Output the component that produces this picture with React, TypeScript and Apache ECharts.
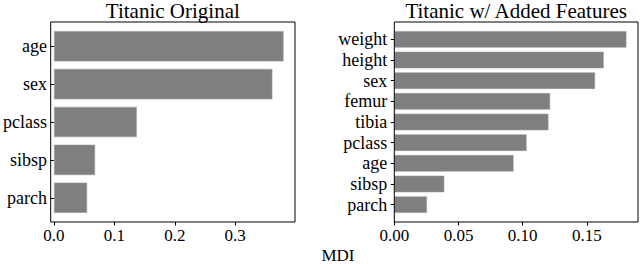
import React, { useEffect, useRef } from 'react';
import * as echarts from 'echarts';

const leftTitle = 'Titanic Original';
const rightTitle = 'Titanic w/ Added Features';
const xLabel = 'MDI';

const leftCategories = ['age', 'sex', 'pclass', 'sibsp', 'parch'];
const leftValues = [0.380, 0.3615, 0.137, 0.068, 0.0548];
const leftTicks = [0, 0.1, 0.2, 0.3];

const rightCategories = ['weight', 'height', 'sex', 'femur', 'tibia', 'pclass', 'age', 'sibsp', 'parch'];
const rightValues = [0.1807, 0.163, 0.1563, 0.1213, 0.12, 0.103, 0.0928, 0.0389, 0.0254];
const rightTicks = [0, 0.05, 0.1, 0.15];

const FONT = '"Liberation Serif", "DejaVu Serif", serif';

export default function App() {
  const ref = useRef<HTMLDivElement>(null);

  useEffect(() => {
    if (!ref.current) return;
    const chart = echarts.init(ref.current, null, { renderer: 'svg' });

    const frames = [
      { x0: 50.7, x1: 295, y0: 22, y1: 222 },
      { x0: 394.3, x1: 638, y0: 22, y1: 222 },
    ];
    const cats = [leftCategories, rightCategories];
    const vals = [leftValues, rightValues];
    const ticks = [leftTicks, rightTicks];
    const decimals = [1, 2];

    const grids: any[] = [];
    const xAxes: any[] = [];
    const yAxes: any[] = [];
    const series: any[] = [];
    const graphics: any[] = [];

    frames.forEach((f, i) => {
      const n = cats[i].length;
      const span = (n - 1) + 0.8;
      const range = span * 1.1;
      const H = f.y1 - f.y0;
      const unit = H / range;
      const margin = ((range - n) / 2) * unit;
      grids.push({
        left: f.x0,
        top: f.y0 + margin,
        width: f.x1 - f.x0,
        height: n * unit,
        containLabel: false,
      });
      const maxV = Math.max(...vals[i]) * 1.05;
      xAxes.push({
        type: 'value',
        gridIndex: i,
        min: 0,
        max: maxV,
        offset: margin,
        axisLine: { show: false },
        splitLine: { show: false },
        axisTick: {
          show: true,
          length: 3.5,
          customValues: ticks[i],
          lineStyle: { color: '#000', width: 1 },
        },
        axisLabel: {
          customValues: ticks[i],
          formatter: (v: number) => v.toFixed(decimals[i]),
          fontFamily: FONT,
          fontSize: 17,
          color: '#000',
          margin: 5,
        },
      });
      yAxes.push({
        type: 'category',
        gridIndex: i,
        inverse: true,
        data: cats[i],
        axisLine: { show: false },
        axisTick: {
          show: true,
          alignWithLabel: true,
          interval: 0,
          length: 3.5,
          lineStyle: { color: '#000', width: 1 },
        },
        axisLabel: {
          interval: 0,
          fontFamily: FONT,
          fontSize: 18,
          color: '#000',
          margin: 7,
        },
      });
      series.push({
        type: 'bar',
        xAxisIndex: i,
        yAxisIndex: i,
        data: vals[i],
        barCategoryGap: '20%',
        itemStyle: { color: '#7f7f7f', borderColor: '#9a9a9a', borderWidth: 0.6 },
      });
      graphics.push({
        type: 'rect',
        shape: { x: f.x0, y: f.y0, width: f.x1 - f.x0, height: f.y1 - f.y0 },
        style: { fill: 'none', stroke: '#000', lineWidth: 1 },
        z: 100,
      });
      graphics.push({
        type: 'text',
        x: (f.x0 + f.x1) / 2,
        y: 11,
        style: {
          text: i === 0 ? leftTitle : rightTitle,
          fontFamily: FONT,
          fontSize: 21,
          fill: '#000',
          textAlign: 'center',
          textVerticalAlign: 'middle',
        },
      });
    });

    graphics.push({
      type: 'text',
      x: 338,
      y: 255,
      style: {
        text: xLabel,
        fontFamily: FONT,
        fontSize: 17,
        fill: '#000',
        textAlign: 'center',
        textVerticalAlign: 'middle',
      },
    });

    chart.setOption({
      animation: false,
      backgroundColor: '#fff',
      grid: grids,
      xAxis: xAxes,
      yAxis: yAxes,
      series,
      graphic: graphics,
    });

    return () => chart.dispose();
  }, []);

  return (
    <div
      ref={ref}
      style={{ position: 'fixed', left: 0, top: 0, width: 640, height: 264 }}
    />
  );
}
